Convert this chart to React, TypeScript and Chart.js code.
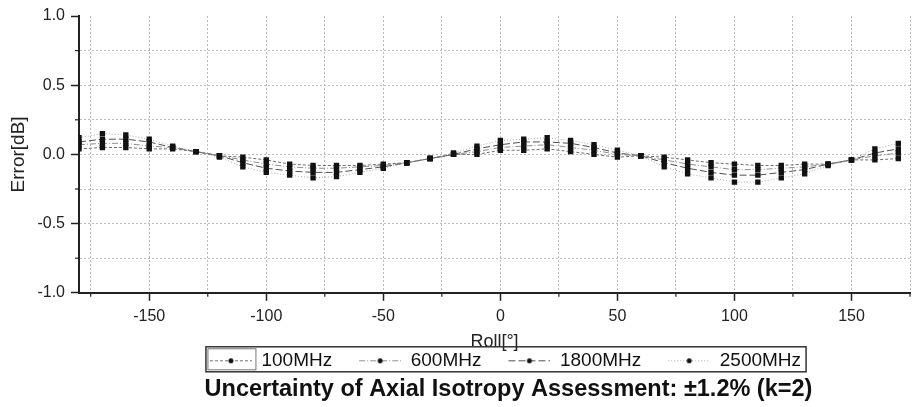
import React, { useEffect, useRef } from 'react';
import { Chart, registerables } from 'chart.js';

Chart.register(...registerables);

// ---- data ----
const rollAngles = [
  -180, -170, -160, -150, -140, -130, -120, -110, -100, -90,
  -80, -70, -60, -50, -40, -30, -20, -10, 0, 10,
  20, 30, 40, 50, 60, 70, 80, 90, 100, 110,
  120, 130, 140, 150, 160, 170,
];

const err100 = [
  0.04, 0.05, 0.05, 0.04, 0.04, 0.02, -0.01, -0.02, -0.04, -0.07,
  -0.08, -0.08, -0.08, -0.07, -0.06, -0.03, 0.0, 0.0, 0.03, 0.03,
  0.04, 0.02, 0.0, -0.02, -0.01, -0.02, -0.04, -0.06, -0.07, -0.08,
  -0.08, -0.07, -0.07, -0.04, -0.04, -0.03,
];

const err600 = [
  0.07, 0.08, 0.08, 0.06, 0.05, 0.02, -0.01, -0.04, -0.07, -0.09,
  -0.1, -0.1, -0.09, -0.08, -0.06, -0.03, 0.0, 0.02, 0.05, 0.06,
  0.07, 0.05, 0.03, 0.0, -0.01, -0.04, -0.07, -0.09, -0.11, -0.11,
  -0.1, -0.09, -0.07, -0.04, -0.01, 0.01,
];

const err1800 = [
  0.09, 0.11, 0.11, 0.09, 0.05, 0.02, -0.01, -0.06, -0.1, -0.12,
  -0.13, -0.13, -0.11, -0.09, -0.06, -0.03, 0.0, 0.04, 0.07, 0.09,
  0.09, 0.08, 0.05, 0.01, -0.01, -0.06, -0.1, -0.13, -0.15, -0.15,
  -0.13, -0.11, -0.07, -0.04, 0.01, 0.04,
];

const err2500 = [
  0.12, 0.15, 0.14, 0.11, 0.06, 0.02, -0.02, -0.09, -0.13, -0.15,
  -0.17, -0.16, -0.13, -0.1, -0.06, -0.03, 0.01, 0.06, 0.1, 0.11,
  0.12, 0.1, 0.07, 0.03, -0.01, -0.09, -0.14, -0.17, -0.2, -0.2,
  -0.17, -0.14, -0.08, -0.04, 0.04, 0.08,
];

const seriesLabels = ['100MHz', '600MHz', '1800MHz', '2500MHz'];
const seriesValues = [err100, err600, err1800, err2500];

const xGridValues = [-175, -150, -125, -100, -75, -50, -25, 0, 25, 50, 75, 100, 125, 150, 175];
const xLabelValues = [-150, -100, -50, 0, 50, 100, 150];
const yGridValues = [-1, -0.75, -0.5, -0.25, 0, 0.25, 0.5, 0.75, 1];
const yLabelValues = [-1, -0.5, 0, 0.5, 1];

const xTitle = 'Roll[°]';
const yTitle = 'Error[dB]';
const chartTitle = 'Uncertainty of Axial Isotropy Assessment: ±1.2% (k=2)';

// ---- styles ----
const seriesColors = ['#6e6e6e', '#8e8e8e', '#505050', '#a8a8a8'];
const seriesDashes = [[3, 2], [6, 2, 1, 2], [7, 3], [1, 2]];
const FONT = '"Liberation Sans", Arial, sans-serif';

function makeSample(color: string, dash: number[]) {
  const c = document.createElement('canvas');
  c.width = 64;
  c.height = 14;
  const g = c.getContext('2d')!;
  g.strokeStyle = color;
  g.lineWidth = 1;
  g.setLineDash(dash);
  g.beginPath();
  g.moveTo(22, 7.5);
  g.lineTo(64, 7.5);
  g.stroke();
  g.fillStyle = '#111';
  g.beginPath();
  g.arc(43, 7.5, 2.5, 0, Math.PI * 2);
  g.fill();
  return c;
}

export default function App() {
  const ref = useRef<HTMLCanvasElement>(null);

  useEffect(() => {
    document.body.style.margin = '0';
    Chart.defaults.font.family = FONT;
    const canvas = ref.current!;
    const samples = seriesLabels.map((_, i) => makeSample(seriesColors[i], seriesDashes[i]));

    const decorPlugin = {
      id: 'decor',
      afterLayout(chart: any) {
        const t = chart.titleBlock;
        if (t) {
          t.left += 14;
          t.right += 14;
        }
      },
      afterDraw(chart: any) {
        const { ctx, chartArea } = chart;
        const xs = chart.scales.x;
        const ys = chart.scales.y;
        ctx.save();
        ctx.strokeStyle = '#222';
        ctx.lineWidth = 1.2;
        ctx.setLineDash([]);
        xGridValues
          .filter((v) => !xLabelValues.includes(v))
          .forEach((v) => {
            const px = xs.getPixelForValue(v);
            ctx.beginPath();
            ctx.moveTo(px, chartArea.bottom);
            ctx.lineTo(px, chartArea.bottom + 4);
            ctx.stroke();
          });
        yGridValues
          .filter((v) => !yLabelValues.includes(v))
          .forEach((v) => {
            const py = ys.getPixelForValue(v);
            ctx.beginPath();
            ctx.moveTo(chartArea.left - 4, py);
            ctx.lineTo(chartArea.left, py);
            ctx.stroke();
          });
        // legend frame
        const lg = chart.legend;
        const hb = lg && lg.legendHitBoxes;
        if (hb && hb.length) {
          const first = hb[0];
          const last = hb[hb.length - 1];
          const x1 = first.left + 18;
          const x2 = last.left + last.width + 5;
          const y1 = lg.top + 1;
          const h = 25;
          ctx.strokeStyle = '#333';
          ctx.lineWidth = 1.5;
          ctx.strokeRect(x1, y1, x2 - x1, h);
          ctx.strokeStyle = '#777';
          ctx.lineWidth = 1;
          ctx.strokeRect(x1 + 2, y1 + 2, 48, h - 4);
        }
        ctx.restore();
      },
    };

    const gridColor = '#bcbcbc';

    const chart = new Chart(canvas, {
      type: 'line',
      data: {
        datasets: seriesLabels.map((label, i) => ({
          label,
          data: rollAngles.map((x, j) => ({ x, y: seriesValues[i][j] })),
          borderColor: seriesColors[i],
          borderDash: seriesDashes[i],
          borderWidth: 1,
          pointStyle: 'rect',
          pointRadius: 3.8,
          pointBackgroundColor: '#111',
          pointBorderColor: '#111',
          pointBorderWidth: 0,
          tension: 0,
          fill: false,
        })),
      },
      options: {
        responsive: false,
        animation: false,
        layout: { padding: { left: 0, right: 4, top: 16, bottom: 3 } },
        scales: {
          x: {
            type: 'linear',
            min: -180,
            max: 175,
            afterBuildTicks: (s: any) => {
              s.ticks = xGridValues.map((v) => ({ value: v }));
            },
            afterFit: (s: any) => {
              s.height = 53;
            },
            ticks: {
              autoSkip: false,
              maxRotation: 0,
              minRotation: 0,
              padding: 6,
              color: '#222',
              font: { size: 16 },
              callback: (v: any) => (xLabelValues.includes(v) ? String(v) : ''),
            },
            grid: {
              color: gridColor,
              lineWidth: 1,
              tickLength: 8,
              tickWidth: 1.5,
              tickBorderDash: [],
              tickColor: (c: any) => (c.tick && xLabelValues.includes(c.tick.value) ? '#222' : 'rgba(0,0,0,0)'),
            },
            border: { display: true, color: '#222', width: 2, dash: [2, 2] },
            title: {
              display: true,
              text: xTitle,
              color: '#222',
              font: { size: 18, lineHeight: 1.2 },
              padding: { top: 0, bottom: -7 },
            },
          },
          y: {
            type: 'linear',
            min: -1,
            max: 1,
            afterBuildTicks: (s: any) => {
              s.ticks = yGridValues.map((v) => ({ value: v }));
            },
            afterFit: (s: any) => {
              s.width = 79;
            },
            ticks: {
              autoSkip: false,
              padding: 6,
              color: '#222',
              font: { size: 16 },
              callback: (v: any) => (yLabelValues.includes(v) ? Number(v).toFixed(1) : ''),
            },
            grid: {
              color: (c: any) => (c.tick && Math.abs(c.tick.value) === 1 ? 'rgba(0,0,0,0)' : gridColor),
              lineWidth: 1,
              tickLength: 8,
              tickWidth: 1.5,
              tickBorderDash: [],
              tickColor: (c: any) => (c.tick && yLabelValues.includes(c.tick.value) ? '#222' : 'rgba(0,0,0,0)'),
            },
            border: { display: true, color: '#222', width: 2, dash: [2, 2] },
            title: {
              display: true,
              text: yTitle,
              color: '#222',
              font: { size: 19, lineHeight: 1.2 },
              padding: { top: 7, bottom: 0 },
            },
          },
        },
        plugins: {
          tooltip: { enabled: false },
          legend: {
            display: true,
            position: 'bottom',
            fullSize: false,
            maxHeight: 27,
            labels: {
              usePointStyle: true,
              pointStyleWidth: 64,
              padding: 5,
              color: '#111',
              font: { size: 19 },
              generateLabels: (ch: any) =>
                ch.data.datasets.map((ds: any, i: number) => ({
                  text: ds.label,
                  pointStyle: samples[i],
                  fillStyle: 'rgba(0,0,0,0)',
                  strokeStyle: 'rgba(0,0,0,0)',
                  lineWidth: 0,
                  hidden: false,
                  datasetIndex: i,
                  fontColor: '#111',
                })),
            },
          },
          title: {
            display: true,
            text: chartTitle,
            position: 'bottom',
            fullSize: false,
            color: '#111',
            font: { size: 23.5, weight: 'bold', lineHeight: 1.2 },
            padding: { top: 3, bottom: 0 },
          },
        },
      } as any,
      plugins: [decorPlugin],
    });

    return () => chart.destroy();
  }, []);

  return (
    <canvas
      ref={ref}
      width={916}
      height={407}
      style={{ display: 'block', width: '916px', height: '407px' }}
    />
  );
}
